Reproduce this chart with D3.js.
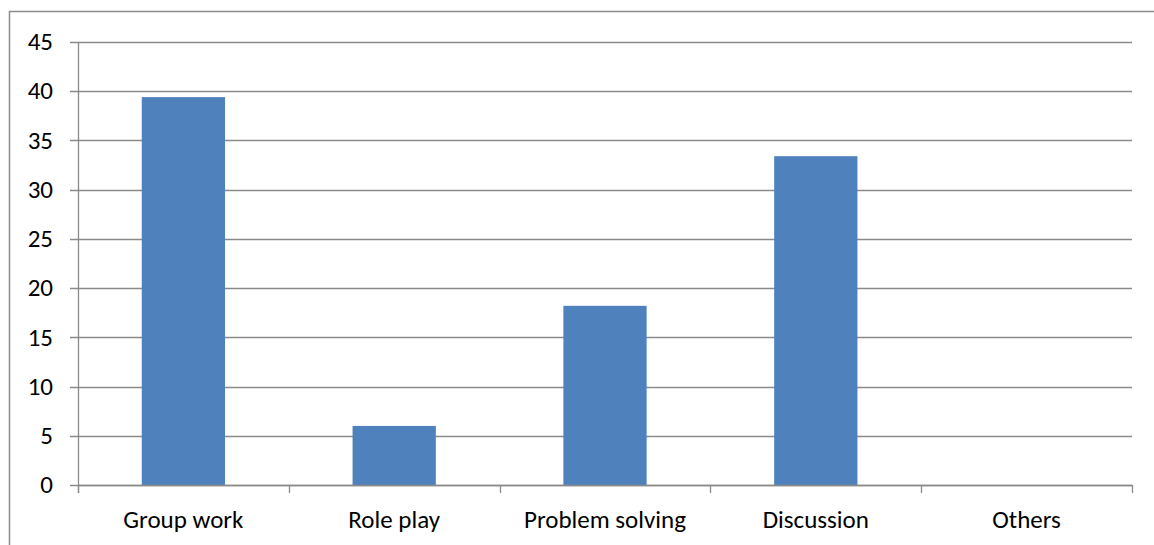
<!DOCTYPE html>
<html>
<head>
<meta charset="utf-8">
<script src="https://cdn.jsdelivr.net/npm/d3@7"></script>
<style>
  html, body { margin: 0; padding: 0; background: #fff; }
  svg { display: block; }
  text { font-family: Carlito, "Open Sans", "Noto Sans", sans-serif; fill: #000; }
</style>
</head>
<body>
<svg id="chart" width="1154" height="545"></svg>
<script>
// Teaching methods used (percent of responses)
const categories = ["Group work", "Role play", "Problem solving", "Discussion", "Others"];
const values = [39.4, 6.0, 18.2, 33.4, 0];
const yTicks = [0, 5, 10, 15, 20, 25, 30, 35, 40, 45];

const svg = d3.select("#chart");
const margin = { left: 78, right: 22, top: 42, bottom: 60 };
const W = 1154, H = 545;
const innerRight = W - margin.right;
const innerBottom = H - margin.bottom;
const fontSize = 25;

// Outer chart frame (top and left edges visible)
svg.append("path")
  .attr("d", `M9.5,${H} V11.5 H${W}`)
  .attr("fill", "none")
  .attr("stroke", "#8c8c8c")
  .attr("stroke-width", 1.5);

const x = d3.scaleBand()
  .domain(categories)
  .range([margin.left, innerRight])
  .paddingInner(0.605)
  .paddingOuter(0.3025);

const y = d3.scaleLinear()
  .domain([0, 45])
  .range([innerBottom, margin.top]);

// Horizontal gridlines with left tick marks
svg.append("g")
  .selectAll("line")
  .data(yTicks)
  .join("line")
  .attr("x1", margin.left - 8)
  .attr("x2", innerRight)
  .attr("y1", d => Math.round(y(d)) + 0.5)
  .attr("y2", d => Math.round(y(d)) + 0.5)
  .attr("stroke", "#8a8a8a")
  .attr("stroke-width", 1.3);

// Y axis labels
svg.append("g")
  .selectAll("text")
  .data(yTicks)
  .join("text")
  .attr("x", margin.left - 25)
  .attr("y", d => y(d))
  .attr("dy", "0.33em")
  .attr("text-anchor", "end")
  .attr("font-size", fontSize)
  .text(d => d);

// Bars
svg.append("g")
  .selectAll("rect")
  .data(values)
  .join("rect")
  .attr("x", (d, i) => x(categories[i]))
  .attr("width", x.bandwidth())
  .attr("y", d => y(d))
  .attr("height", d => y(0) - y(d))
  .attr("fill", "#4f81bd");

// Y axis line
svg.append("line")
  .attr("x1", margin.left + 0.5).attr("x2", margin.left + 0.5)
  .attr("y1", margin.top).attr("y2", innerBottom + 8)
  .attr("stroke", "#8a8a8a").attr("stroke-width", 1.3);

// X axis baseline and category boundary ticks
svg.append("line")
  .attr("x1", margin.left).attr("x2", innerRight)
  .attr("y1", Math.round(y(0)) + 0.5).attr("y2", Math.round(y(0)) + 0.5)
  .attr("stroke", "#8a8a8a").attr("stroke-width", 1.3);

const step = x.step();
const boundaries = d3.range(categories.length + 1).map(i => margin.left + i * step);
svg.append("g")
  .selectAll("line")
  .data(boundaries)
  .join("line")
  .attr("x1", d => Math.round(d) + 0.5)
  .attr("x2", d => Math.round(d) + 0.5)
  .attr("y1", y(0))
  .attr("y2", y(0) + 8)
  .attr("stroke", "#8a8a8a").attr("stroke-width", 1.3);

// Category labels
svg.append("g")
  .selectAll("text")
  .data(categories)
  .join("text")
  .attr("x", d => x(d) + x.bandwidth() / 2)
  .attr("y", innerBottom + 43)
  .attr("text-anchor", "middle")
  .attr("font-size", fontSize)
  .text(d => d);
</script>
</body>
</html>
